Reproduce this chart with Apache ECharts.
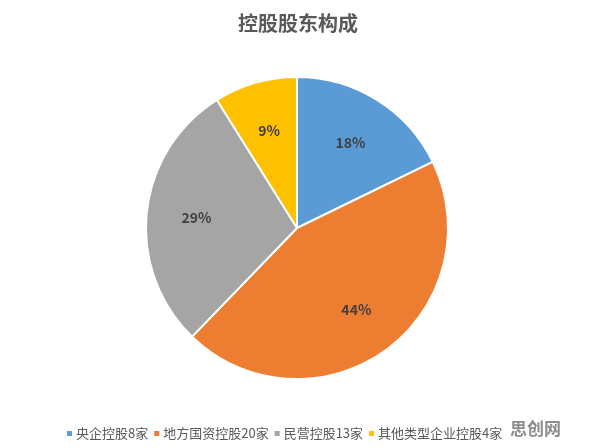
<!DOCTYPE html>
<html>
<head>
<meta charset="utf-8">
<script src="https://cdn.jsdelivr.net/npm/echarts@6/dist/echarts.min.js"></script>
<style>
  html, body { margin: 0; padding: 0; background: #fff; }
  #main { width: 596px; height: 448px; }
</style>
</head>
<body>
<div id="main"></div>
<script>
var categories = ['央企控股8家', '地方国资控股20家', '民营控股13家', '其他类型企业控股4家'];
var values = [8, 20, 13, 4];
var colors = ['#5B9BD5', '#ED7D31', '#A5A5A5', '#FFC000'];

var pieData = categories.map(function (c, i) {
    return { name: c, value: values[i] };
});

var chart = echarts.init(document.getElementById('main'));
var option = {
    backgroundColor: '#fff',
    color: colors,
    title: {
        text: '控股股东构成',
        left: 'center',
        top: 8,
        textStyle: {
            fontFamily: 'Noto Sans CJK SC',
            fontSize: 20,
            fontWeight: 'bold',
            color: '#595959'
        }
    },
    legend: {
        data: categories,
        top: 422,
        left: 60,
        itemWidth: 7,
        itemHeight: 7,
        itemGap: 4,
        icon: 'rect',
        textStyle: {
            fontFamily: 'Noto Sans CJK SC',
            fontSize: 13,
            color: '#595959',
            padding: [0, 0, 0, -2]
        }
    },
    graphic: [{
        type: 'text',
        left: 510,
        top: 420,
        style: {
            text: '思创网',
            font: 'bold 17px "Noto Sans CJK SC"',
            fill: '#8c8c8c'
        }
    }],
    series: [{
        // filled pie
        type: 'pie',
        radius: 151,
        center: [297, 228],
        startAngle: 90,
        clockwise: true,
        itemStyle: {
            borderColor: '#fff',
            borderWidth: 2
        },
        label: { show: false },
        labelLine: { show: false },
        emphasis: { disabled: true },
        data: pieData
    }, {
        // transparent ring just to push the % labels outward
        type: 'pie',
        radius: [45, 151],
        center: [297, 228],
        startAngle: 90,
        clockwise: true,
        silent: true,
        itemStyle: { color: 'rgba(0,0,0,0)' },
        label: {
            show: true,
            position: 'inside',
            formatter: function (p) { return Math.round(p.percent) + '%'; },
            fontFamily: 'Noto Sans CJK SC',
            fontSize: 14,
            fontWeight: 'bold',
            color: '#404040'
        },
        labelLine: { show: false },
        emphasis: { disabled: true },
        data: pieData
    }]
};
chart.setOption(option);
window.onresize = chart.resize;
</script>
</body>
</html>
